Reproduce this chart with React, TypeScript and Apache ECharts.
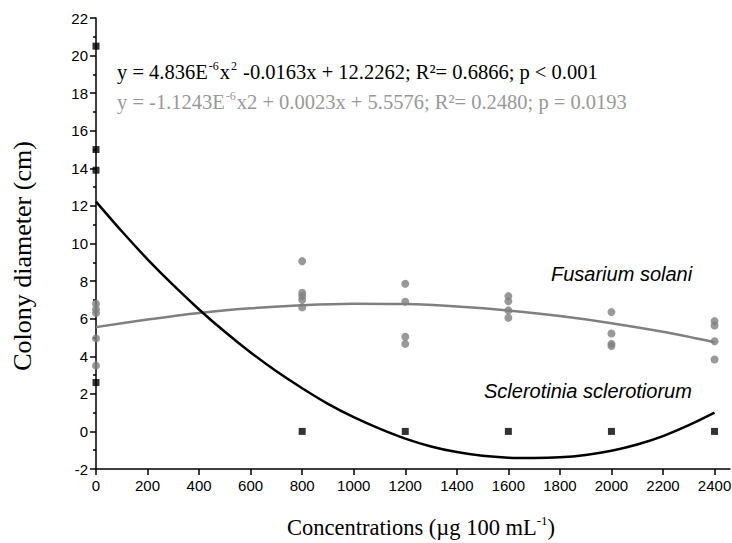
import React, { useEffect, useRef } from "react";
import * as echarts from "echarts";

const xTicks = [0, 200, 400, 600, 800, 1000, 1200, 1400, 1600, 1800, 2000, 2200, 2400];

// Sclerotinia sclerotiorum (black squares)
const sclerotiniaX = [0, 0, 0, 0, 800, 1200, 1600, 2000, 2400];
const sclerotiniaY = [20.5, 15.0, 13.9, 2.6, 0, 0, 0, 0, 0];

// Fusarium solani (grey circles)
const fusariumX = [0, 0, 0, 0, 0, 800, 800, 800, 800, 800, 1200, 1200, 1200, 1200, 1600, 1600, 1600, 1600, 2000, 2000, 2000, 2000, 2400, 2400, 2400, 2400];
const fusariumY = [6.8, 6.5, 6.3, 4.95, 3.5, 9.06, 7.38, 7.2, 7.0, 6.6, 7.86, 6.9, 5.04, 4.66, 7.2, 6.93, 6.44, 6.05, 6.35, 5.21, 4.66, 4.54, 5.87, 5.64, 4.8, 3.83];

// fitted curves
const sclerotiniaFitX = [0, 100, 200, 300, 400, 500, 600, 700, 800, 900, 1000, 1100, 1200, 1300, 1400, 1500, 1600, 1700, 1800, 1900, 2000, 2100, 2200, 2300, 2400];
const sclerotiniaFit = [12.23, 10.65, 9.16, 7.78, 6.49, 5.3, 4.2, 3.2, 2.3, 1.47, 0.76, 0.15, -0.38, -0.8, -1.1, -1.3, -1.4, -1.42, -1.38, -1.25, -1.03, -0.7, -0.25, 0.33, 1.0];
const fusariumFitX = [0, 200, 400, 600, 800, 1000, 1200, 1400, 1600, 1800, 2000, 2200, 2400];
const fusariumFit = [5.55, 5.95, 6.3, 6.55, 6.72, 6.8, 6.78, 6.65, 6.44, 6.14, 5.76, 5.3, 4.75];

const SERIF = "'Liberation Serif', 'Times New Roman', serif";
const SANS = "'Liberation Sans', Arial, sans-serif";

export default function App() {
  const ref = useRef<HTMLDivElement>(null);
  useEffect(() => {
    if (!ref.current) return;
    const chart = echarts.init(ref.current, null, { renderer: "svg" });
    const eqRich = (fill: string) => ({
      n: { fontSize: 20.5, fontFamily: SERIF, fill, color: fill, lineHeight: 24 },
      s: { fontSize: 12, fontFamily: SERIF, fill, color: fill, verticalAlign: "top", lineHeight: 24, padding: [0, 1, 0, 1] },
    });
    chart.setOption({
      animation: false,
      backgroundColor: "#ffffff",
      grid: { left: 96, right: 2, top: 18, bottom: 74, containLabel: false, outerBoundsMode: "none" },
      xAxis: {
        type: "value",
        min: 0,
        max: 2460,
        interval: 200,
        axisLine: { onZero: false, lineStyle: { color: "#000", width: 1.5 } },
        axisTick: { show: true, inside: false, length: 6, lineStyle: { color: "#000", width: 1.5 }, customValues: xTicks },
        axisLabel: { color: "#000", fontSize: 15, fontFamily: SANS, margin: 9, customValues: xTicks, formatter: (v: number) => String(v) },
        splitLine: { show: false },
      },
      yAxis: {
        type: "value",
        min: -2,
        max: 22,
        interval: 2,
        axisLine: { onZero: false, lineStyle: { color: "#000", width: 1.5 } },
        axisTick: { show: true, inside: false, length: 6, lineStyle: { color: "#000", width: 1.5 } },
        minorTick: { show: true, splitNumber: 2, length: 3, lineStyle: { color: "#000", width: 1.5 } },
        axisLabel: { color: "#000", fontSize: 15, fontFamily: SANS, margin: 8, formatter: (v: number) => String(v) },
        splitLine: { show: false },
      },
      series: [
        {
          type: "line",
          smooth: 0.3,
          showSymbol: false,
          data: fusariumFitX.map((x, i) => [x, fusariumFit[i]]),
          lineStyle: { color: "#808080", width: 2.5 },
          z: 2,
        },
        {
          type: "line",
          smooth: 0.3,
          showSymbol: false,
          data: sclerotiniaFitX.map((x, i) => [x, sclerotiniaFit[i]]),
          lineStyle: { color: "#000000", width: 2.5 },
          z: 2,
        },
        {
          type: "scatter",
          symbol: "circle",
          symbolSize: 8,
          data: fusariumX.map((x, i) => [x, fusariumY[i]]),
          itemStyle: { color: "#808080" },
          z: 3,
        },
        {
          type: "scatter",
          symbol: "rect",
          symbolSize: 7,
          data: sclerotiniaX.map((x, i) => [x, sclerotiniaY[i]]),
          itemStyle: { color: "#000000" },
          z: 4,
        },
      ],
      graphic: [
        {
          type: "text",
          x: 22,
          y: 256,
          rotation: Math.PI / 2,
          style: {
            text: "Colony diameter (cm)",
            fontSize: 26,
            fontFamily: SERIF,
            fill: "#000",
            align: "center",
            verticalAlign: "middle",
          },
        },
        {
          type: "text",
          x: 421,
          y: 527,
          style: {
            text: "{a|Concentrations (µg 100 mL}{s|-1}{a|)}",
            align: "center",
            verticalAlign: "middle",
            rich: {
              a: { fontSize: 22.5, fontFamily: SERIF, fill: "#000", color: "#000", lineHeight: 26 },
              s: { fontSize: 13, fontFamily: SERIF, fill: "#000", color: "#000", verticalAlign: "top", lineHeight: 26 },
            },
          },
        },
        {
          type: "text",
          left: 117,
          top: 60,
          style: {
            text: "{n|y = 4.836E}{s|-6}{n|x}{s|2}{n| -0.0163x + 12.2262; R²= 0.6866; p < 0.001}",
            rich: eqRich("#000000"),
          },
        },
        {
          type: "text",
          left: 117,
          top: 90,
          style: {
            text: "{n|y = -1.1243E}{s|-6}{n|x2 + 0.0023x + 5.5576; R²= 0.2480; p = 0.0193}",
            rich: eqRich("#999999"),
          },
        },
        {
          type: "text",
          left: 551,
          top: 264,
          style: { text: "Fusarium solani", fontSize: 20, fontStyle: "italic", fontFamily: SANS, fill: "#000" },
        },
        {
          type: "text",
          left: 484,
          top: 381,
          style: { text: "Sclerotinia sclerotiorum", fontSize: 20, fontStyle: "italic", fontFamily: SANS, fill: "#000" },
        },
      ],
    });
    return () => chart.dispose();
  }, []);
  return <div ref={ref} style={{ position: "absolute", left: 0, top: 0, width: 732, height: 543 }} />;
}
